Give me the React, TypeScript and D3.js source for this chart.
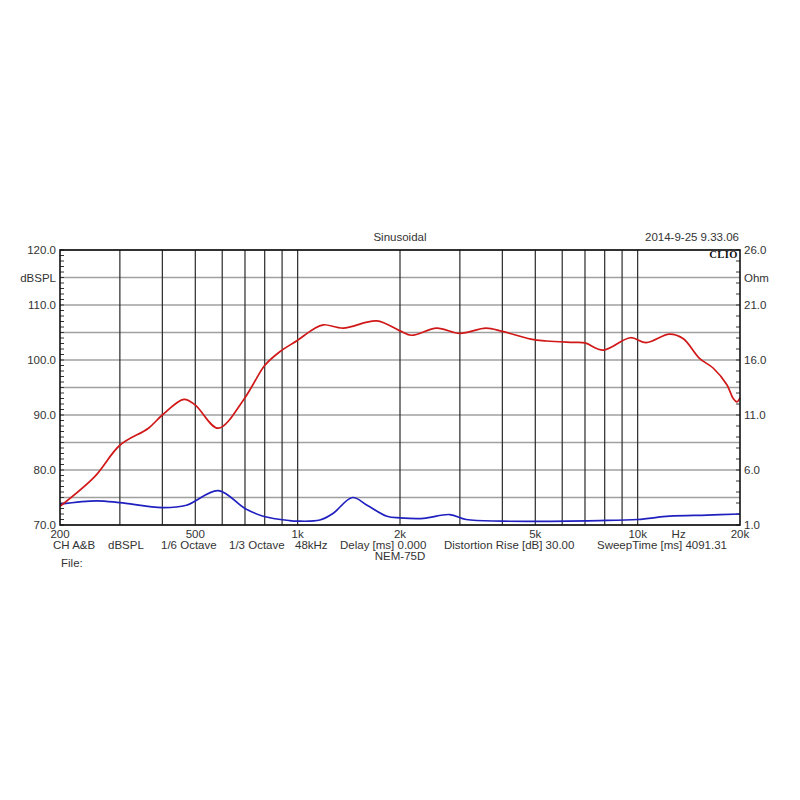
import React from 'react';
import * as d3 from 'd3';

// SPL curve (red, left axis dBSPL)
const splFreq = [200, 253, 300, 364, 400, 463, 500, 584, 692, 740, 800, 886, 1000, 1112, 1190, 1362, 1708, 2000, 2162, 2563, 3000, 3580, 4000, 4850, 5400, 6470, 7000, 7920, 9520, 10600, 12400, 13600, 15200, 16700, 18300, 19100, 19600, 20000];
const splValues = [73.4, 78.8, 84.5, 87.6, 90.0, 92.85, 91.8, 87.6, 92.7, 95.6, 99.0, 101.5, 103.6, 105.6, 106.4, 105.8, 107.1, 105.3, 104.5, 105.8, 104.85, 105.8, 105.2, 103.8, 103.45, 103.2, 103.1, 101.8, 104.05, 103.15, 104.7, 103.9, 100.3, 98.5, 95.5, 93.0, 92.4, 93.1];

// Impedance curve (blue, right axis Ohm)
const impFreq = [200, 256, 300, 400, 471, 584, 700, 792, 947, 1000, 1162, 1270, 1450, 1600, 1830, 2000, 2347, 2800, 3130, 4000, 7700, 10000, 12400, 16000, 20000];
const impValues = [2.9, 3.2, 3.03, 2.58, 2.8, 4.13, 2.5, 1.8, 1.4, 1.35, 1.45, 2.05, 3.5, 2.8, 1.8, 1.65, 1.6, 1.95, 1.5, 1.35, 1.4, 1.5, 1.8, 1.9, 2.0];

const gridFreqs = [300, 400, 500, 600, 700, 800, 900, 1000, 2000, 3000, 4000, 5000, 6000, 7000, 8000, 9000, 10000];
const freqLabels: [number, string][] = [[200, '200'], [500, '500'], [1000, '1k'], [2000, '2k'], [5000, '5k'], [10000, '10k'], [13200, 'Hz'], [20000, '20k']];
const dbTicks = [120, 115, 110, 105, 100, 95, 90, 85, 80, 75, 70];
const dbLabels: [number, string][] = [[120, '120.0'], [115, 'dBSPL'], [110, '110.0'], [100, '100.0'], [90, '90.0'], [80, '80.0'], [70, '70.0']];
const ohmLabels: [number, string][] = [[26, '26.0'], [23.5, 'Ohm'], [21, '21.0'], [16, '16.0'], [11, '11.0'], [6, '6.0'], [1, '1.0']];
const footerItems: [number, string][] = [[53, 'CH A&B'], [108, 'dBSPL'], [161, '1/6 Octave'], [229, '1/3 Octave'], [295, '48kHz'], [340, 'Delay [ms] 0.000'], [444, 'Distortion Rise [dB] 30.00'], [597, 'SweepTime [ms] 4091.31']];

const L = 60, R = 740, T = 250, B = 525;
const FONT = '"Liberation Sans", Arial, sans-serif';

export default function App() {
  const x = d3.scaleLog().domain([200, 20000]).range([L, R]);
  const yDb = d3.scaleLinear().domain([70, 120]).range([B, T]);
  const yOhm = d3.scaleLinear().domain([1, 26]).range([B, T]);

  const splLine = d3.line<number>()
    .x((_, i) => x(splFreq[i]))
    .y(d => yDb(d))
    .curve(d3.curveCatmullRom.alpha(0.5));
  const impLine = d3.line<number>()
    .x((_, i) => x(impFreq[i]))
    .y(d => yOhm(d))
    .curve(d3.curveCatmullRom.alpha(0.5));

  const minorDb = d3.range(70, 121, 1);
  const minorOhm = d3.range(1, 27, 1);

  return (
    <div style={{ position: 'absolute', left: 0, top: 0 }}>
      <svg width={800} height={800} style={{ display: 'block', background: '#fff' }} fontFamily={FONT} fontSize={11.5} fill="#333">
        {/* horizontal grid */}
        {dbTicks.map(d => (
          <line key={'h' + d} x1={L} x2={R} y1={yDb(d)} y2={yDb(d)} stroke="#a0a0a0" strokeWidth={1.5} />
        ))}
        {/* vertical grid */}
        {gridFreqs.map(f => (
          <line key={'v' + f} x1={x(f)} x2={x(f)} y1={T} y2={B} stroke="#2a2a2a" strokeWidth={1.2} />
        ))}
        {/* minor ticks */}
        {minorDb.map(d => (
          <line key={'md' + d} x1={L} x2={L + 4} y1={yDb(d)} y2={yDb(d)} stroke="#333" strokeWidth={1} />
        ))}
        {minorOhm.map(d => (
          <line key={'mo' + d} x1={R - 4} x2={R} y1={yOhm(d)} y2={yOhm(d)} stroke="#333" strokeWidth={1} />
        ))}
        {/* curves */}
        <path d={impLine(impValues) || ''} fill="none" stroke="#2020c0" strokeWidth={1.7} />
        <path d={splLine(splValues) || ''} fill="none" stroke="#d01818" strokeWidth={1.7} />
        {/* frame */}
        <rect x={L} y={T} width={R - L} height={B - T} fill="none" stroke="#111" strokeWidth={1.6} />

        {/* header */}
        <text x={400} y={241} textAnchor="middle">Sinusoidal</text>
        <text x={739} y={241} textAnchor="end">2014-9-25 9.33.06</text>
        <text x={738} y={258} textAnchor="end" fontFamily='"Liberation Serif", serif' fontWeight="bold" fontSize={10.5} fill="#111" letterSpacing={0.5}>CLIO</text>

        {/* left labels */}
        {dbLabels.map(([d, t]) => (
          <text key={'dl' + t} x={56} y={yDb(d) + 4} textAnchor="end">{t}</text>
        ))}
        {/* right labels */}
        {ohmLabels.map(([d, t]) => (
          <text key={'ol' + t} x={744} y={yOhm(d) + 4}>{t}</text>
        ))}
        {/* frequency labels */}
        {freqLabels.map(([f, t]) => (
          <text key={'fl' + t} x={x(f)} y={538} textAnchor="middle">{t}</text>
        ))}
        {/* footer */}
        {footerItems.map(([px, t]) => (
          <text key={'ft' + t} x={px} y={549}>{t}</text>
        ))}
        <text x={400} y={560} textAnchor="middle">NEM-75D</text>
        <text x={61} y={567}>File:</text>
      </svg>
    </div>
  );
}
